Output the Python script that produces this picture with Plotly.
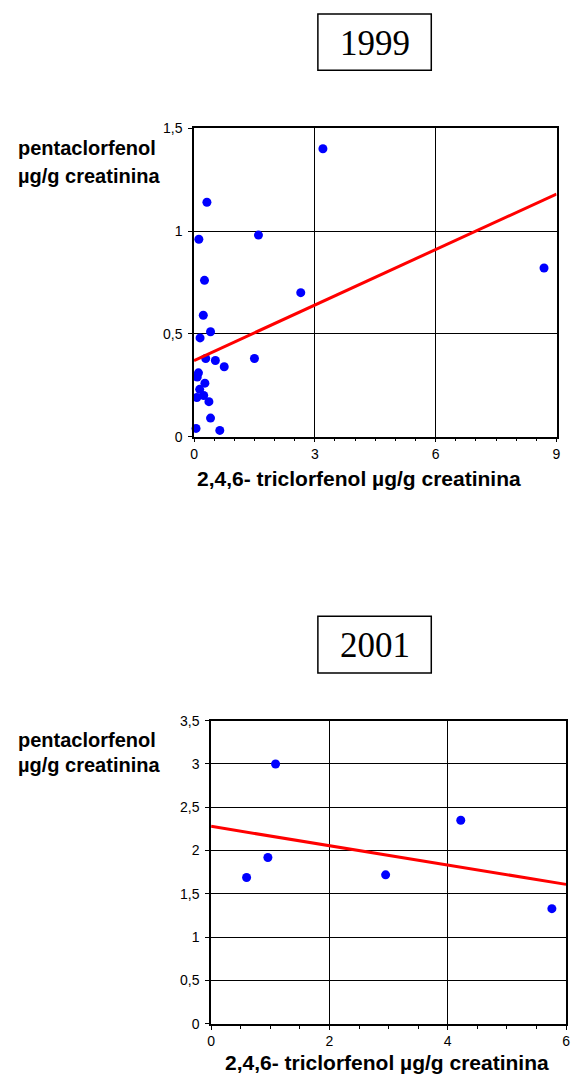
import plotly.graph_objects as go

# 1999 survey: 2,4,6-triclorfenol (x) vs pentaclorfenol (y), ug/g creatinina
x_1999 = [3.20, 0.32, 0.12, 1.60, 0.26, 2.65, 0.23, 0.41, 0.15, 0.29, 0.53, 1.50,
          0.75, 0.11, 0.08, 0.27, 0.14, 0.07, 0.24, 0.37, 0.41, 0.05, 0.64, 8.69]
y_1999 = [1.40, 1.14, 0.96, 0.98, 0.76, 0.70, 0.59, 0.51, 0.48, 0.38, 0.37, 0.38,
          0.34, 0.31, 0.29, 0.26, 0.23, 0.19, 0.20, 0.17, 0.09, 0.04, 0.03, 0.82]
trend_x_1999 = [0, 9]
trend_y_1999 = [0.37, 1.18]

# 2001 survey
x_2001 = [0.60, 0.96, 1.09, 2.95, 4.22, 5.76]
y_2001 = [1.69, 1.92, 3.00, 1.72, 2.35, 1.33]
trend_x_2001 = [0, 6]
trend_y_2001 = [2.28, 1.61]

W, H = 576, 1088
SANS = "Liberation Sans, Arial"
SERIF = "Liberation Serif, Times New Roman"


def px(x):
    # page pixel -> paper fraction
    return x / W


def py(y):
    return 1 - y / H


fig = go.Figure()

fig.add_trace(go.Scatter(x=x_1999, y=y_1999, mode="markers",
                         marker=dict(color="#0000ff", size=9),
                         xaxis="x", yaxis="y", cliponaxis=False))
fig.add_trace(go.Scatter(x=trend_x_1999, y=trend_y_1999, mode="lines",
                         line=dict(color="#ff0000", width=3),
                         xaxis="x", yaxis="y"))
fig.add_trace(go.Scatter(x=x_2001, y=y_2001, mode="markers",
                         marker=dict(color="#0000ff", size=9),
                         xaxis="x2", yaxis="y2", cliponaxis=False))
fig.add_trace(go.Scatter(x=trend_x_2001, y=trend_y_2001, mode="lines",
                         line=dict(color="#ff0000", width=3),
                         xaxis="x2", yaxis="y2"))

axis_common = dict(
    showline=True, mirror=True, linecolor="black", linewidth=1.5,
    showgrid=True, gridcolor="black", gridwidth=1.2,
    zeroline=False, ticks="outside", ticklen=4, tickcolor="black", tickwidth=1.2,
    tickfont=dict(family=SANS, size=14, color="black"),
)
minor_x = dict(dtick=0.5, ticks="outside", ticklen=3, tickcolor="black",
               tickwidth=1, showgrid=False)

fig.update_layout(
    width=W, height=H,
    margin=dict(l=0, r=0, t=0, b=0),
    paper_bgcolor="white", plot_bgcolor="white",
    showlegend=False,
    separators=",.",
    xaxis=dict(axis_common, domain=[px(192.7), px(560.3)], range=[0, 9],
               tickvals=[0, 3, 6, 9], minor=minor_x, anchor="y"),
    yaxis=dict(axis_common, domain=[py(435), py(122)], range=[0, 1.5],
               tickvals=[0, 0.5, 1, 1.5], anchor="x", ticklabelstandoff=3),
    xaxis2=dict(axis_common, domain=[px(210), px(570)], range=[0, 6],
                tickvals=[0, 2, 4, 6], minor=minor_x, anchor="y2"),
    yaxis2=dict(axis_common, domain=[py(1031), py(723.3)], range=[0, 3.5],
                tickvals=[0, 0.5, 1, 1.5, 2, 2.5, 3, 3.5], anchor="x2",
                ticklabelstandoff=3),
)

# year boxes
for label, top, bottom in [("1999", 6, 63.3), ("2001", 617.3, 675)]:
    fig.add_shape(type="rect", xref="paper", yref="paper",
                  x0=px(318.3), x1=px(433.3), y0=py(bottom), y1=py(top),
                  line=dict(color="black", width=1.5))
    fig.add_annotation(text=label, xref="paper", yref="paper",
                       x=px(375.8), y=py((top + bottom) / 2 + 1),
                       showarrow=False, xanchor="center", yanchor="middle",
                       font=dict(family=SERIF, size=35, color="black"))

# y titles
for y1, y2 in [(141.7, 170), (743, 768)]:
    for txt, yy in [("pentaclorfenol", y1), ("µg/g creatinina", y2)]:
        fig.add_annotation(text="<b>%s</b>" % txt, xref="paper", yref="paper",
                           x=px(12), y=py(yy), showarrow=False,
                           xanchor="left", yanchor="middle",
                           font=dict(family=SANS, size=20, color="black"))

# x titles
for xc, yy in [(360, 478), (388, 1070)]:
    fig.add_annotation(text="<b>2,4,6- triclorfenol µg/g creatinina</b>",
                       xref="paper", yref="paper", x=px(xc), y=py(yy),
                       showarrow=False, xanchor="center", yanchor="middle",
                       font=dict(family=SANS, size=21, color="black"))

# drop the default 8px body margin so the figure sits at the page origin
fig.write_html("out.html", config={"displayModeBar": False},
               post_script="document.body.style.margin='0';"
                           "document.body.style.overflow='hidden';")
